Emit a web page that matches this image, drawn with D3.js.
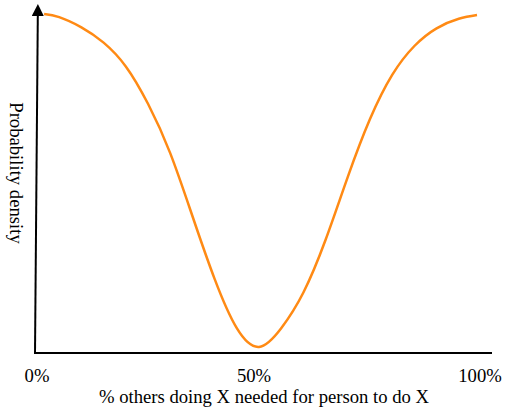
<!DOCTYPE html>
<html><head><meta charset="utf-8">
<script src="https://cdn.jsdelivr.net/npm/d3@7"></script>
<style>body{margin:0;background:#fff}svg{display:block}text{font-family:"Liberation Serif","Times New Roman",serif;fill:#000}</style>
</head><body>
<svg id="c" width="507" height="409"></svg>
<script>
const pctOthers = [1.6,5,10,15,20,25,30,35,40,45,50,55,60,65,70,75,80,85,90,95,99.1];
const density   = [0.994,0.985,0.955,0.91,0.84,0.73,0.585,0.40,0.215,0.07,0.015,0.07,0.175,0.33,0.515,0.685,0.815,0.90,0.952,0.98,0.991];
const tickValues = [0,50,100];
const tickLabels = ["0%","50%","100%"];
const xTitle = "% others doing X needed for person to do X";
const yTitle = "Probability density";

const svg = d3.select("#c");
const x = d3.scaleLinear().domain([0,100]).range([37,481]);
const y = d3.scaleLinear().domain([0,1]).range([352,12]);

svg.append("defs").append("marker").attr("id","arr")
  .attr("viewBox","0 0 10 10").attr("refX",0).attr("refY",5)
  .attr("markerWidth",6).attr("markerHeight",6).attr("markerUnits","strokeWidth")
  .attr("orient","auto")
  .append("path").attr("d","M0,0 L10,5 L0,10 z").attr("fill","#000");

// x axis
svg.append("line").attr("x1",34).attr("y1",353).attr("x2",492).attr("y2",353)
  .attr("stroke","#000").attr("stroke-width",2);
// y axis with arrow
svg.append("line").attr("x1",35).attr("y1",354).attr("x2",37.8).attr("y2",16)
  .attr("stroke","#000").attr("stroke-width",2).attr("marker-end","url(#arr)");

const line = d3.line().x((d,i)=>x(pctOthers[i])).y((d,i)=>y(density[i])).curve(d3.curveNatural);
svg.append("path").attr("d",line(density)).attr("fill","none")
  .attr("stroke","#ff8a14").attr("stroke-width",2.5);

svg.selectAll(".tick").data(tickValues).enter().append("text")
  .attr("x",(d,i)=>x(d)+[0,-5,-1][i]).attr("y",382).attr("text-anchor","middle")
  .attr("font-size","18.67px").text((d,i)=>tickLabels[i]);

svg.append("text").attr("x",264).attr("y",403).attr("text-anchor","middle")
  .attr("font-size","18.67px").text(xTitle);

svg.append("text").attr("transform","translate(10,173) rotate(90)").attr("text-anchor","middle")
  .attr("font-size","18.67px").text(yTitle);
</script>
</body></html>
